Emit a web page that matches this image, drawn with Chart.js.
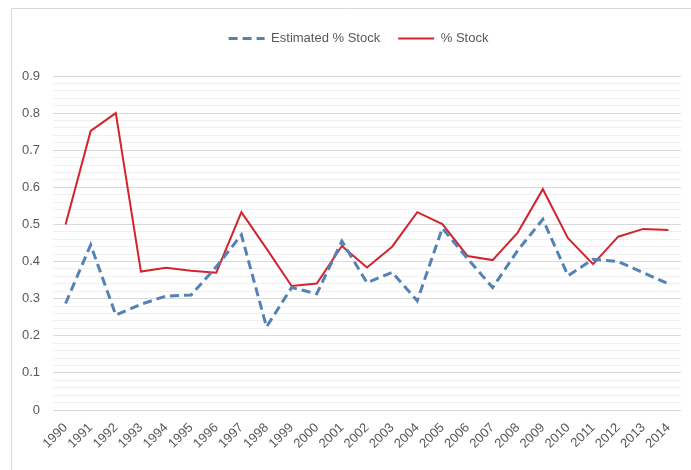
<!DOCTYPE html>
<html>
<head>
<meta charset="utf-8">
<script src="https://cdn.jsdelivr.net/npm/chart.js@4/dist/chart.umd.min.js"></script>
<style>
  html, body { margin: 0; padding: 0; background: #ffffff; }
  #wrap { width: 691px; height: 470px; position: relative; }
</style>
</head>
<body>
<div id="wrap"><canvas id="c" width="691" height="470"></canvas></div>
<script>
// Years on the category axis
const years = ['1990','1991','1992','1993','1994','1995','1996','1997','1998','1999',
  '2000','2001','2002','2003','2004','2005','2006','2007','2008','2009',
  '2010','2011','2012','2013','2014'];

// Share of stock, estimated vs. observed
const estimatedStock = [0.287, 0.445, 0.256, 0.285, 0.307, 0.310, 0.386, 0.472, 0.224, 0.330,
  0.313, 0.455, 0.343, 0.371, 0.294, 0.490, 0.408, 0.330, 0.430, 0.514,
  0.362, 0.406, 0.400, 0.370, 0.340];
const stock = [0.500, 0.752, 0.800, 0.373, 0.383, 0.375, 0.370, 0.533, 0.435, 0.334,
  0.341, 0.442, 0.384, 0.440, 0.533, 0.501, 0.415, 0.404, 0.478, 0.595,
  0.463, 0.393, 0.467, 0.488, 0.485];

// Y axis range and label step
const yMin = 0, yMax = 0.9, yMinorStep = 0.02, yLabelStep = 0.1;

const textColor = '#595959';
const fontFamily = '"Liberation Sans", Arial, sans-serif';

function isMajor(v) {
  const r = v / yLabelStep;
  return Math.abs(r - Math.round(r)) < 1e-6;
}

// Thin frame along the top and left edges of the chart
const framePlugin = {
  id: 'frame',
  beforeDraw(chart) {
    const ctx = chart.ctx;
    ctx.save();
    ctx.strokeStyle = '#d9d9d9';
    ctx.lineWidth = 1;
    ctx.beginPath();
    ctx.moveTo(11.5, 470);
    ctx.lineTo(11.5, 8.5);
    ctx.lineTo(691, 8.5);
    ctx.stroke();
    ctx.restore();
  }
};

// Extra room under the legend and a small horizontal shift of it
const legendExtra = 21;
const legendShift = 18;
const legendSpacing = {
  id: 'legendSpacing',
  beforeInit(chart) {
    const lg = chart.legend;
    if (!lg) return;
    const fit = lg.fit;
    lg.fit = function () { fit.call(this); this.height += legendExtra; };
  },
  afterLayout(chart) {
    const lg = chart.legend;
    if (!lg) return;
    lg.left += legendShift; lg.right += legendShift;
  }
};

new Chart(document.getElementById('c'), {
  type: 'line',
  data: {
    labels: years,
    datasets: [
      {
        label: 'Estimated % Stock',
        data: estimatedStock,
        borderColor: '#5482b6',
        backgroundColor: '#5482b6',
        borderWidth: 3,
        borderDash: [9, 5],
        pointRadius: 0,
        pointStyle: 'line',
        tension: 0,
        fill: false
      },
      {
        label: '% Stock',
        data: stock,
        borderColor: '#d3242b',
        backgroundColor: '#d3242b',
        borderWidth: 2,
        pointRadius: 0,
        pointStyle: 'line',
        tension: 0,
        fill: false
      }
    ]
  },
  options: {
    responsive: false,
    animation: false,
    layout: { padding: { top: 14, right: 10, left: 0, bottom: 0 } },
    plugins: {
      legend: {
        position: 'top',
        align: 'center',
        labels: {
          usePointStyle: true,
          pointStyleWidth: 36,
          boxWidth: 36,
          boxHeight: 3,
          padding: 18,
          color: textColor,
          font: { family: fontFamily, size: 13 },
          generateLabels(chart) {
            return chart.data.datasets.map((ds, i) => ({
              text: ds.label,
              datasetIndex: i,
              fillStyle: ds.borderColor,
              strokeStyle: ds.borderColor,
              lineWidth: ds.borderWidth,
              lineDash: ds.borderDash || [],
              lineCap: 'butt',
              pointStyle: 'line',
              fontColor: textColor,
              hidden: false
            }));
          }
        }
      },
      tooltip: { enabled: false }
    },
    scales: {
      x: {
        offset: true,
        grid: { display: false },
        border: { display: false },
        ticks: {
          color: textColor,
          font: { family: fontFamily, size: 13 },
          minRotation: 45,
          maxRotation: 45,
          autoSkip: false,
          padding: 2
        },
        afterFit(scale) { scale.height = 60; }
      },
      y: {
        min: yMin,
        max: yMax,
        border: { display: false },
        grid: {
          drawTicks: false,
          color: (c) => isMajor(c.tick.value) ? '#d9d9d9' : '#f0f0f0',
          lineWidth: 1
        },
        ticks: {
          stepSize: yMinorStep,
          autoSkip: false,
          padding: 13,
          color: textColor,
          font: { family: fontFamily, size: 13 },
          callback: (v) => isMajor(v) ? String(Math.round(v * 10) / 10) : ''
        },
        afterFit(scale) { scale.width = 53; }
      }
    }
  },
  plugins: [framePlugin, legendSpacing]
});
</script>
</body>
</html>
